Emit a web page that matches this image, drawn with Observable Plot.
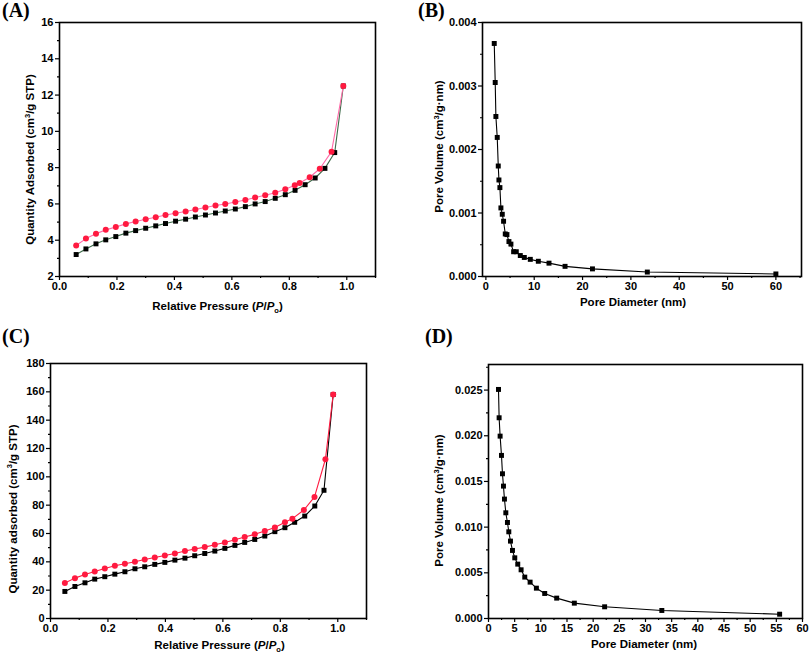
<!DOCTYPE html>
<html>
<head>
<meta charset="utf-8">
<script src="https://cdn.jsdelivr.net/npm/d3@7"></script>
<script src="https://cdn.jsdelivr.net/npm/@observablehq/plot@0.6"></script>
<style>
  html, body { margin: 0; padding: 0; background: #fff; }
  #wrap { position: relative; width: 810px; height: 656px; background: #fff; overflow: hidden; }
  .pane { position: absolute; }
  .pane svg text { font-weight: bold; }
  .tag { position: absolute; font-family: 'Liberation Serif', 'Times New Roman', serif; font-weight: bold; font-size: 20px; line-height: 20px; color: #000; }
</style>
</head>
<body>
<div id="wrap"></div>
<script>
// ---------- Panel A: N2 isotherm (small) ----------
const aAdsX = [0.058, 0.092, 0.127, 0.161, 0.196, 0.231, 0.265, 0.300, 0.335, 0.369, 0.404, 0.439, 0.473, 0.508, 0.543, 0.577, 0.612, 0.647, 0.681, 0.716, 0.751, 0.786, 0.820, 0.855, 0.890, 0.924, 0.958, 0.988];
const aAdsY = [3.21, 3.52, 3.80, 4.02, 4.20, 4.39, 4.53, 4.66, 4.79, 4.92, 5.05, 5.16, 5.28, 5.39, 5.50, 5.61, 5.72, 5.85, 6.00, 6.13, 6.31, 6.51, 6.75, 7.06, 7.43, 7.96, 8.83, 12.50];
const aDesX = [0.058, 0.092, 0.127, 0.161, 0.196, 0.231, 0.265, 0.300, 0.335, 0.369, 0.404, 0.439, 0.473, 0.508, 0.543, 0.577, 0.612, 0.647, 0.681, 0.716, 0.751, 0.786, 0.819, 0.836, 0.871, 0.906, 0.947, 0.988];
const aDesY = [3.71, 4.09, 4.35, 4.57, 4.73, 4.90, 5.03, 5.16, 5.27, 5.39, 5.49, 5.58, 5.69, 5.80, 5.91, 6.00, 6.11, 6.22, 6.35, 6.48, 6.62, 6.81, 7.03, 7.15, 7.47, 7.94, 8.88, 12.50];

// ---------- Panel B: pore size distribution (small) ----------
const bX = [1.73, 1.93, 2.07, 2.35, 2.56, 2.70, 2.90, 3.11, 3.39, 3.66, 4.01, 4.35, 4.77, 5.18, 5.74, 6.29, 7.12, 7.95, 9.19, 10.85, 13.06, 16.38, 22.05, 33.4, 60.0];
const bY = [0.00367, 0.003055, 0.00252, 0.00219, 0.00174, 0.00152, 0.00140, 0.00108, 0.00098, 0.00087, 0.00067, 0.00066, 0.00055, 0.00051, 0.00039, 0.00039, 0.00033, 0.00030, 0.00027, 0.00024, 0.00021, 0.00016, 0.00012, 0.00007, 0.00004];

// ---------- Panel C: N2 isotherm (large) ----------
const cAdsX = [0.050, 0.085, 0.120, 0.154, 0.189, 0.224, 0.259, 0.294, 0.328, 0.363, 0.398, 0.433, 0.468, 0.502, 0.537, 0.572, 0.607, 0.642, 0.676, 0.711, 0.746, 0.781, 0.816, 0.850, 0.885, 0.920, 0.952, 0.984];
const cAdsY = [19.1, 22.6, 25.2, 27.8, 29.5, 31.3, 33.0, 35.1, 36.5, 38.2, 39.6, 41.2, 42.6, 44.3, 45.9, 47.6, 49.5, 51.6, 53.7, 55.8, 58.2, 61.3, 64.1, 67.9, 72.3, 79.4, 90.5, 158.1];
const cDesX = [0.050, 0.085, 0.120, 0.154, 0.189, 0.224, 0.259, 0.294, 0.328, 0.363, 0.398, 0.433, 0.468, 0.502, 0.537, 0.572, 0.607, 0.642, 0.676, 0.711, 0.746, 0.781, 0.816, 0.842, 0.882, 0.919, 0.957, 0.984];
const cDesY = [25.0, 28.5, 31.1, 33.2, 35.3, 37.2, 38.6, 40.1, 41.7, 43.1, 44.5, 45.9, 47.6, 49.0, 50.4, 52.1, 53.7, 55.6, 57.5, 59.4, 61.7, 64.3, 67.9, 70.5, 76.6, 85.8, 112.4, 158.1];

// ---------- Panel D: pore size distribution (large) ----------
const dX = [1.91, 2.03, 2.22, 2.48, 2.67, 2.86, 3.05, 3.31, 3.62, 3.88, 4.20, 4.58, 5.02, 5.59, 6.23, 6.93, 7.95, 9.15, 10.74, 13.03, 16.40, 22.19, 33.12, 55.63];
const dY = [0.02507, 0.02197, 0.01996, 0.01785, 0.01584, 0.01449, 0.01307, 0.01157, 0.01051, 0.00949, 0.00847, 0.00745, 0.00664, 0.00595, 0.00533, 0.00453, 0.00398, 0.00332, 0.00274, 0.00223, 0.00168, 0.00128, 0.00088, 0.00047];

// ---------- Tick values ----------
const pTicks = [0.0, 0.2, 0.4, 0.6, 0.8, 1.0];
const pMinor = [0.1, 0.3, 0.5, 0.7, 0.9, 1.1];
const aYTicks = [2, 4, 6, 8, 10, 12, 14, 16];
const aYMinor = [3, 5, 7, 9, 11, 13, 15];
const bXTicks = [0, 10, 20, 30, 40, 50, 60];
const bXMinor = [5, 15, 25, 35, 45, 55, 65];
const bYTicks = [0, 0.001, 0.002, 0.003, 0.004];
const bYMinor = [0.0005, 0.0015, 0.0025, 0.0035];
const cYTicks = [0, 20, 40, 60, 80, 100, 120, 140, 160, 180];
const cYMinor = [10, 30, 50, 70, 90, 110, 130, 150, 170];
const dXTicks = [0, 5, 10, 15, 20, 25, 30, 35, 40, 45, 50, 55, 60];
const dXMinor = [2.5, 7.5, 12.5, 17.5, 22.5, 27.5, 32.5, 37.5, 42.5, 47.5, 52.5, 57.5];
const dYTicks = [0, 0.005, 0.010, 0.015, 0.020, 0.025];
const dYMinor = [0.0025, 0.0075, 0.0125, 0.0175, 0.0225, 0.0275];

// ---------- Labels ----------
const tags = ["(A)", "(B)", "(C)", "(D)"];
const labA_y = "Quantity Adsorbed (cm3/g STP)";
const labC_y = "Quantity adsorbed (cm3/g STP)";
const labP = "Relative Pressure (P/Po)";
const labPV = "Pore Volume (cm3/g·nm)";
const labPD = "Pore Diameter (nm)";

const rich = {
  [labA_y]: 'Quantity Adsorbed (cm<tspan font-size="7.5" dy="-4.5">3</tspan><tspan dy="4.5">/g STP)</tspan>',
  [labC_y]: 'Quantity adsorbed (cm<tspan font-size="7.5" dy="-4.5">3</tspan><tspan dy="4.5">/g STP)</tspan>',
  [labP]: 'Relative Pressure (<tspan font-style="italic">P</tspan>/<tspan font-style="italic">P</tspan><tspan font-size="7.5" dy="3">o</tspan><tspan dy="-3">)</tspan>',
  [labPV]: 'Pore Volume (cm<tspan font-size="7.5" dy="-4.5">3</tspan><tspan dy="4.5">/g·nm)</tspan>'
};

const fmt1 = d3.format(".1f");
const fmt3 = d3.format(".3f");
const fmtI = d3.format("d");

function panel(cfg) {
  const marks = [
    Plot.axisX(cfg.xMinor, {anchor: "bottom", tickSize: 2, strokeWidth: 1.2, fill: "none", label: null}),
    Plot.axisY(cfg.yMinor, {anchor: "left", tickSize: 2, strokeWidth: 1.2, fill: "none", label: null}),
    Plot.axisX(cfg.xTicks, {anchor: "bottom", tickSize: 4, tickPadding: 2, strokeWidth: 1.2, tickFormat: cfg.xfmt, label: null, fontSize: 11, fontWeight: "bold"}),
    Plot.axisY(cfg.yTicks, {anchor: "left", tickSize: 4, tickPadding: 2, strokeWidth: 1.2, tickFormat: cfg.yfmt, label: null, fontSize: 11, fontWeight: "bold"}),
    Plot.text([cfg.ylab], {text: d => d, frameAnchor: "left", rotate: -90, dx: cfg.ylabDx, dy: cfg.ylabDy, fontSize: 11.5, fontWeight: "bold", textAnchor: "middle", lineAnchor: "middle"}),
    Plot.text([cfg.xlab], {text: d => d, frameAnchor: "bottom", dx: cfg.xlabDx, dy: cfg.xlabDy, fontSize: 11.5, fontWeight: "bold", textAnchor: "middle", lineAnchor: "middle"})
  ];
  for (const s of cfg.series) {
    marks.push(Plot.line(s.y, {x: s.x, y: s.y, stroke: s.line, strokeWidth: 1.1}));
  }
  for (const s of cfg.series) {
    marks.push(Plot.dot(s.y, {x: s.x, y: s.y, symbol: s.symbol, r: s.r, fill: s.fill, stroke: "none"}));
  }
  marks.push(Plot.frame({stroke: "#000", strokeWidth: 1.6}));
  const svg = Plot.plot({
    width: 405, height: 328,
    marginLeft: cfg.ml, marginRight: cfg.mr, marginTop: cfg.mt, marginBottom: cfg.mb,
    x: {type: "linear", domain: cfg.xdom},
    y: {type: "linear", domain: cfg.ydom},
    style: {fontFamily: "'Liberation Sans', Arial, sans-serif", fontSize: "11px", color: "#000", background: "transparent", overflow: "visible"},
    marks
  });
  svg.querySelectorAll("text").forEach(t => {
    const k = t.textContent;
    if (rich[k]) t.innerHTML = rich[k];
    t.setAttribute("font-weight", "bold");
  });
  svg.querySelectorAll('g[aria-label$="tick label"] text').forEach(t => {
    t.setAttribute("font-size", "11");
  });
  const div = document.createElement("div");
  div.className = "pane";
  div.style.left = cfg.left + "px";
  div.style.top = cfg.top + "px";
  div.appendChild(svg);
  return div;
}

const wrap = document.getElementById("wrap");

wrap.appendChild(panel({
  left: 0, top: 0, ml: 59, mr: 30, mt: 22, mb: 52,
  xdom: [0, 1.1], ydom: [2, 16],
  xTicks: pTicks, xMinor: pMinor, yTicks: aYTicks, yMinor: aYMinor, xfmt: fmt1, yfmt: fmtI,
  ylab: labA_y, ylabDx: -29, ylabDy: 10, xlab: labP, xlabDx: 0, xlabDy: 30,
  series: [
    {x: aAdsX, y: aAdsY, symbol: "square", r: 2.8, fill: "#000", line: "#3d6b4a"},
    {x: aDesX, y: aDesY, symbol: "circle", r: 3.0, fill: "#ff1a40", line: "#ff6aa8"}
  ]
}));

wrap.appendChild(panel({
  left: 405, top: 0, ml: 77, mr: 9, mt: 22, mb: 52,
  xdom: [-0.7, 65.3], ydom: [0, 0.004],
  xTicks: bXTicks, xMinor: bXMinor, yTicks: bYTicks, yMinor: bYMinor, xfmt: fmtI, yfmt: fmt3,
  ylab: labPV, ylabDx: -43, ylabDy: -3, xlab: labPD, xlabDx: -9, xlabDy: 26,
  series: [
    {x: bX, y: bY, symbol: "square", r: 2.8, fill: "#000", line: "#000"}
  ]
}));

wrap.appendChild(panel({
  left: 0, top: 328, ml: 50, mr: 39, mt: 35, mb: 38,
  xdom: [0, 1.1], ydom: [0, 180],
  xTicks: pTicks, xMinor: pMinor, yTicks: cYTicks, yMinor: cYMinor, xfmt: fmt1, yfmt: fmtI,
  ylab: labC_y, ylabDx: -37.5, ylabDy: 18, xlab: labP, xlabDx: 11, xlabDy: 27,
  series: [
    {x: cAdsX, y: cAdsY, symbol: "square", r: 2.8, fill: "#000", line: "#000"},
    {x: cDesX, y: cDesY, symbol: "circle", r: 3.0, fill: "#ff1a40", line: "#ff1a40"}
  ]
}));

wrap.appendChild(panel({
  left: 405, top: 328, ml: 83, mr: 8, mt: 36, mb: 38,
  xdom: [0, 60], ydom: [0, 0.0278],
  xTicks: dXTicks, xMinor: dXMinor, yTicks: dYTicks, yMinor: dYMinor, xfmt: fmtI, yfmt: fmt3,
  ylab: labPV, ylabDx: -49, ylabDy: 9, xlab: labPD, xlabDx: -1.5, xlabDy: 26,
  series: [
    {x: dX, y: dY, symbol: "square", r: 2.8, fill: "#000", line: "#000"}
  ]
}));

const tagPos = [[2, 0], [418, 0], [2, 326], [425, 326]];
tags.forEach((t, i) => {
  const el = document.createElement("div");
  el.className = "tag";
  el.textContent = t;
  el.style.left = tagPos[i][0] + "px";
  el.style.top = tagPos[i][1] + "px";
  wrap.appendChild(el);
});
</script>
</body>
</html>
